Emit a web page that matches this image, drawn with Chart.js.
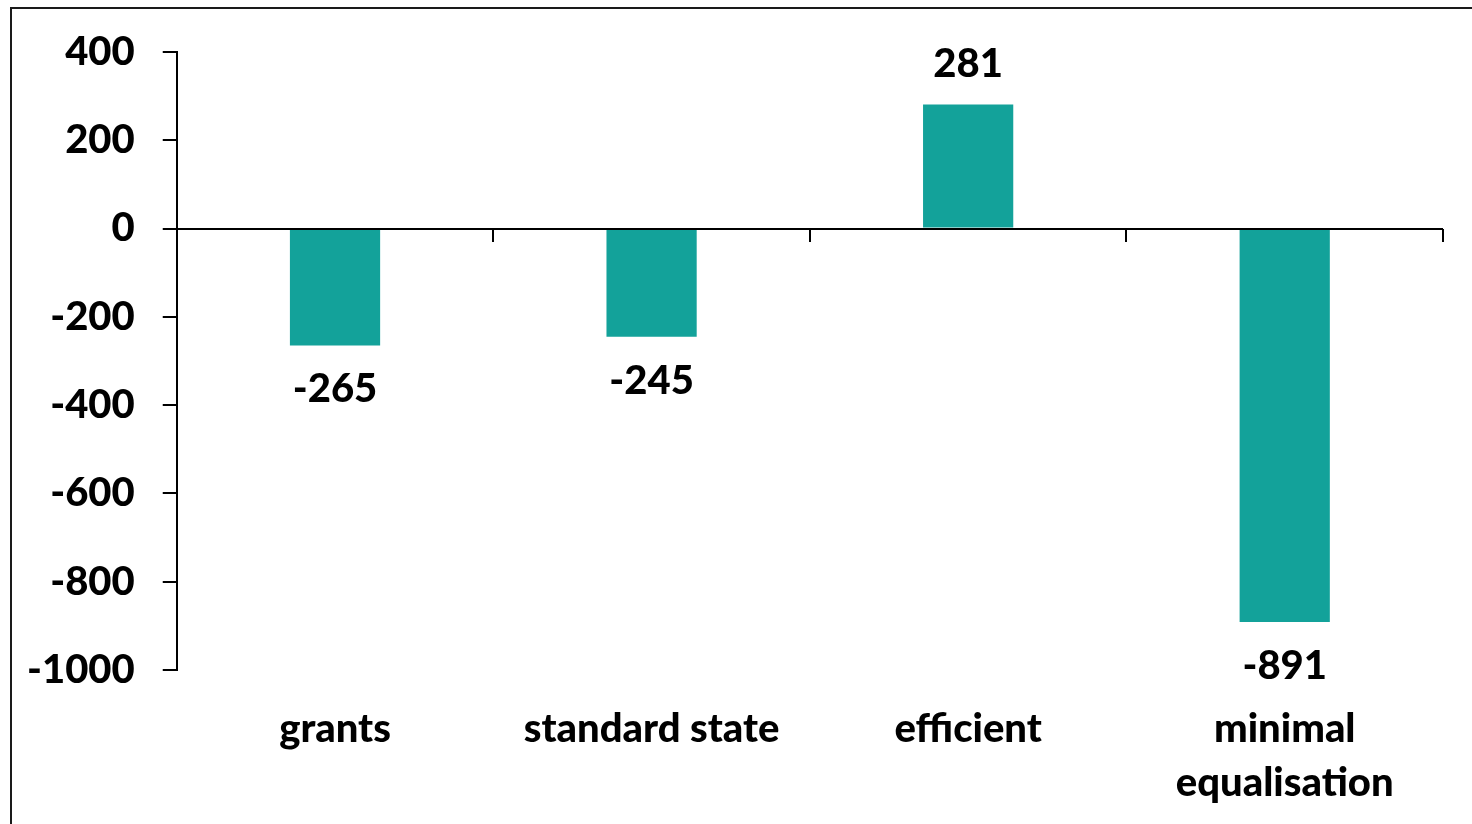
<!DOCTYPE html>
<html>
<head>
<meta charset="utf-8">
<script src="https://cdn.jsdelivr.net/npm/chart.js@4/dist/chart.umd.min.js"></script>
<style>
  html, body { margin: 0; padding: 0; background: #fff; }
  #wrap { position: relative; width: 1472px; height: 824px; }
</style>
</head>
<body>
<div id="wrap"><canvas id="c" width="1472" height="824"></canvas></div>
<script>
const categories = ['grants', 'standard state', 'efficient', ['minimal', 'equalisation']];
const values = [-265, -245, 281, -891];
const yMin = -1000;
const yMax = 400;
const yStep = 200;

const barColor = '#13A29A';
const fontFamily = 'Lato, "Open Sans", sans-serif';
const fontSize = 40;
const fontWeight = 900;

// Outer frame around the whole figure
const framePlugin = {
  id: 'frame',
  beforeDraw(chart) {
    const ctx = chart.ctx;
    ctx.save();
    ctx.strokeStyle = '#1a1a1a';
    ctx.lineWidth = 2;
    ctx.strokeRect(11, 8, 2000, 2000);
    ctx.restore();
  }
};

// Horizontal axis line at zero with tick marks between categories
const zeroAxisPlugin = {
  id: 'zeroAxis',
  afterDatasetsDraw(chart) {
    const { ctx, chartArea, scales } = chart;
    const y0 = Math.round(scales.y.getPixelForValue(0));
    const n = categories.length;
    ctx.save();
    ctx.strokeStyle = '#000';
    ctx.lineWidth = 2;
    ctx.beginPath();
    ctx.moveTo(chartArea.left, y0);
    ctx.lineTo(chartArea.right, y0);
    for (let i = 1; i <= n; i++) {
      const x = Math.round(scales.x.getPixelForValue(i - 0.5));
      ctx.moveTo(x, y0);
      ctx.lineTo(x, y0 + 13);
    }
    ctx.stroke();
    ctx.restore();
  }
};

// Value labels above positive bars and below negative ones
const valueLabelPlugin = {
  id: 'valueLabels',
  afterDatasetsDraw(chart) {
    const ctx = chart.ctx;
    const meta = chart.getDatasetMeta(0);
    ctx.save();
    ctx.font = fontWeight + ' ' + fontSize + 'px ' + fontFamily;
    ctx.fillStyle = '#000';
    ctx.textAlign = 'center';
    ctx.textBaseline = 'middle';
    meta.data.forEach((bar, i) => {
      const v = values[i];
      const y = v >= 0 ? bar.y - 40 : bar.y + 44;
      ctx.fillText(String(v), bar.x, y);
    });
    ctx.restore();
  }
};

new Chart(document.getElementById('c'), {
  type: 'bar',
  data: {
    labels: categories,
    datasets: [{
      data: values,
      backgroundColor: barColor,
      borderWidth: 0,
      categoryPercentage: 1,
      barPercentage: 0.285
    }]
  },
  options: {
    responsive: false,
    animation: false,
    devicePixelRatio: 1,
    layout: { padding: { top: 51, right: 29, bottom: -18, left: -1 } },
    plugins: {
      legend: { display: false },
      tooltip: { enabled: false }
    },
    scales: {
      x: {
        grid: { display: false, drawTicks: false },
        border: { display: false },
        ticks: {
          color: '#000',
          padding: 32,
          maxRotation: 0,
          autoSkip: false,
          font: { family: fontFamily, size: fontSize, weight: fontWeight, lineHeight: 1.35 }
        }
      },
      y: {
        min: yMin,
        max: yMax,
        border: { display: true, color: '#000', width: 2 },
        grid: { drawOnChartArea: false, color: '#000', lineWidth: 2, tickLength: 14 },
        ticks: {
          stepSize: yStep,
          color: '#000',
          padding: 28,
          callback: (v) => String(v),
          font: { family: fontFamily, size: fontSize, weight: fontWeight }
        }
      }
    }
  },
  plugins: [framePlugin, zeroAxisPlugin, valueLabelPlugin]
});
</script>
</body>
</html>
